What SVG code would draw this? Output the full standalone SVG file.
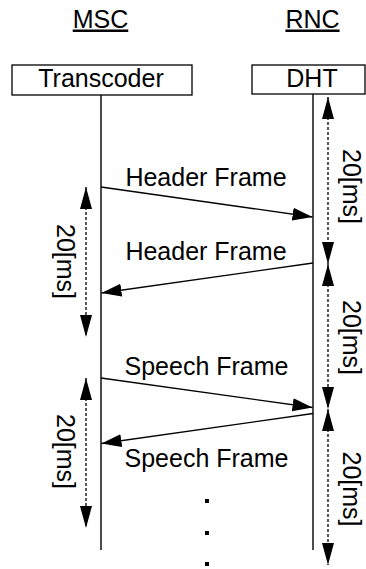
<svg xmlns="http://www.w3.org/2000/svg" width="366" height="569" viewBox="0 0 366 569">
  <style>
    text { font-family: "Liberation Sans", Arial, sans-serif; fill: #000; }
    .lbl { font-size: 25px; text-anchor: middle; }
    .dur { font-size: 25px; text-anchor: middle; }
    .box { fill: #fff; stroke: #000; stroke-width: 1.3; }
    .life { stroke: #000; stroke-width: 1.4; fill: none; }
    .msg { stroke: #000; stroke-width: 1.3; fill: none; marker-end: url(#head); }
    .span { stroke: #000; stroke-width: 1.3; stroke-dasharray: 3 2; fill: none; marker-start: url(#tickStart); marker-end: url(#tickEnd); }
  </style>
  <defs>
    <!-- solid message arrowhead -->
    <marker id="head" markerUnits="userSpaceOnUse" markerWidth="22" markerHeight="14" refX="20" refY="6.5" orient="auto">
      <path d="M0,0 L20,6.5 L0,13 Z" fill="#000"/>
    </marker>
    <!-- heads for the dashed duration spans -->
    <marker id="tickEnd" markerUnits="userSpaceOnUse" markerWidth="24" markerHeight="14" refX="22" refY="6" orient="auto">
      <path d="M0,0 L22,6 L0,12 Z" fill="#000"/>
    </marker>
    <marker id="tickStart" markerUnits="userSpaceOnUse" markerWidth="24" markerHeight="14" refX="0" refY="6" orient="auto">
      <path d="M22,0 L0,6 L22,12 Z" fill="#000"/>
    </marker>
  </defs>

  <!-- entity titles -->
  <g id="msc">
    <text class="lbl" x="100.5" y="27.5" text-decoration="underline">MSC</text>
  </g>
  <g id="rnc">
    <text class="lbl" x="312.5" y="27.5" text-decoration="underline">RNC</text>
  </g>

  <!-- lifelines -->
  <g id="lifelines">
    <line class="life" x1="101" y1="95" x2="101" y2="550"/>
    <line class="life" x1="313" y1="94" x2="313" y2="550"/>
  </g>

  <!-- participant boxes -->
  <g id="transcoder">
    <rect class="box" x="12" y="65" width="180" height="30"/>
    <text class="lbl" x="101" y="87">Transcoder</text>
  </g>
  <g id="dht">
    <rect class="box" x="252" y="65" width="113" height="29"/>
    <text class="lbl" x="312" y="87">DHT</text>
  </g>

  <!-- frame messages -->
  <g id="connectors">
    <line class="msg" x1="101" y1="187" x2="312.5" y2="217"/>
    <line class="msg" x1="313" y1="263" x2="101.5" y2="293"/>
    <line class="msg" x1="101" y1="378" x2="312.5" y2="407.5"/>
    <line class="msg" x1="313" y1="413.5" x2="101.5" y2="443.5"/>

    <!-- 20 ms periods on the RNC side -->
    <line class="span" x1="328" y1="97" x2="328" y2="264"/>
    <line class="span" x1="328" y1="264" x2="328" y2="409"/>
    <line class="span" x1="328" y1="409" x2="328" y2="565"/>

    <!-- 20 ms periods on the MSC side -->
    <line class="span" x1="86" y1="187" x2="86" y2="337"/>
    <line class="span" x1="86" y1="378" x2="86" y2="528"/>
  </g>

  <!-- message labels -->
  <g id="labels">
    <text class="lbl" x="206" y="186">Header Frame</text>
    <text class="lbl" x="206" y="260">Header Frame</text>
    <text class="lbl" x="206.5" y="375">Speech Frame</text>
    <text class="lbl" x="206.5" y="467">Speech Frame</text>
  </g>

  <!-- period labels, reading downward -->
  <g id="periods">
    <text class="dur" transform="translate(343,186.5) rotate(90)">20[ms]</text>
    <text class="dur" transform="translate(343,337.5) rotate(90)">20[ms]</text>
    <text class="dur" transform="translate(343,489) rotate(90)">20[ms]</text>
    <text class="dur" transform="translate(57,261.5) rotate(90)">20[ms]</text>
    <text class="dur" transform="translate(57,451.5) rotate(90)">20[ms]</text>
  </g>

  <!-- continuation dots -->
  <g id="continuation">
    <rect x="205" y="499" width="4" height="4" fill="#000"/>
    <rect x="205" y="531" width="4" height="4" fill="#000"/>
    <rect x="205" y="562" width="4" height="4" fill="#000"/>
  </g>
</svg>
